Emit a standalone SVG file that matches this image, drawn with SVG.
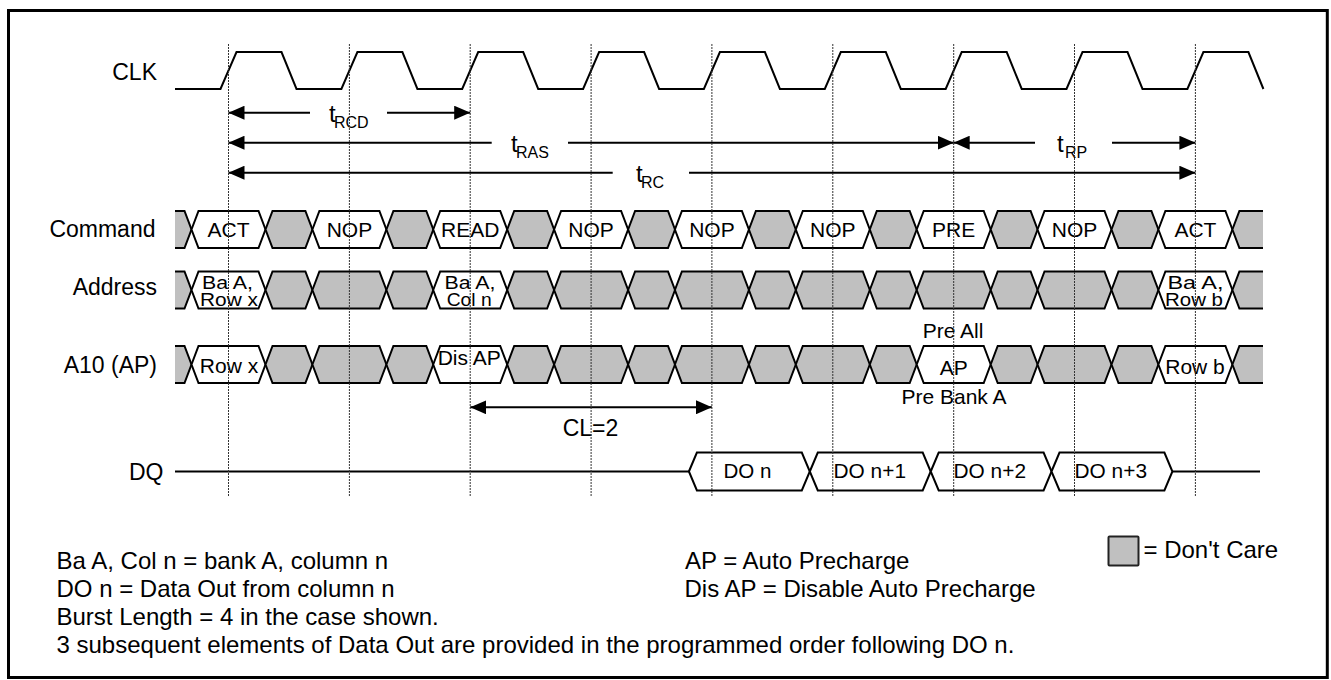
<svg xmlns="http://www.w3.org/2000/svg" width="1331" height="680" viewBox="0 0 1331 680">
<style>
text{font-family:"Liberation Sans",Arial,sans-serif;fill:#000}
.lbl{font-size:23px;text-anchor:end}
.cmd{font-size:21px;text-anchor:middle}
.adr{font-size:17.5px;text-anchor:middle}
.dq{font-size:20px}
.note{font-size:24px}
.w{fill:#fff;stroke:#000;stroke-width:2;stroke-linejoin:miter}
.g{fill:#c0c0c0;stroke:#000;stroke-width:2;stroke-linejoin:miter}
.ln{fill:none;stroke:#000;stroke-width:2}
.arr{stroke:#000;stroke-width:2;fill:none}
.grid{stroke:#333;stroke-width:1;stroke-dasharray:2 1}
</style>
<defs>
<marker id="ah" viewBox="0 0 16 14" refX="16" refY="7" markerWidth="16" markerHeight="14" markerUnits="userSpaceOnUse" orient="auto-start-reverse"><path d="M0,0 L16,7 L0,14 z" fill="#000"/></marker>
<polygon id="hw" points="0,18.5 7,0 67,0 74,18.5 67,37 7,37"/>
<polygon id="hg" points="0,18.5 7,0 39.9,0 46.9,18.5 39.9,37 7,37"/>
<polygon id="hd" points="0,19 8,0 112.9,0 120.9,19 112.9,38 8,38"/>
<g id="capL"><polygon points="0,0 9.5,0 16.5,18.5 9.5,37 0,37" fill="#c0c0c0"/><path d="M0,0 H9.5 L16.5,18.5 L9.5,37 H0" class="ln"/></g>
<g id="capR"><polygon points="0,18.5 7,0 30.6,0 30.6,37 7,37" fill="#c0c0c0"/><path d="M30.6,0 H7 L0,18.5 L7,37 H30.6" class="ln"/></g>
</defs>

<rect id="frame" x="8.5" y="10.5" width="1318.8" height="667" fill="#fff" stroke="#000" stroke-width="3"/>

<g id="clk">
<text class="lbl" x="157" y="79.5">CLK</text>
<path class="ln" d="M175,89 L220.5,89 L236.5,52 L281.5,52 L296.5,89 L341.4,89 L357.4,52 L402.4,52 L417.4,89 L462.2,89 L478.2,52 L523.2,52 L538.2,89 L583.1,89 L599.1,52 L644.1,52 L659.1,89 L703.9,89 L719.9,52 L764.9,52 L779.9,89 L824.8,89 L840.8,52 L885.8,52 L900.8,89 L945.7,89 L961.7,52 L1006.7,52 L1021.7,89 L1066.5,89 L1082.5,52 L1127.5,52 L1142.5,89 L1187.4,89 L1203.4,52 L1248.4,52 L1263.4,89"/>
</g>

<g id="command">
<text class="lbl" x="155.5" y="237">Command</text>
<use href="#capL" x="175" y="211"/>
<use href="#hw" class="w" x="191.5" y="211"/>
<use href="#hg" class="g" x="265.5" y="211"/>
<use href="#hw" class="w" x="312.4" y="211"/>
<use href="#hg" class="g" x="386.4" y="211"/>
<use href="#hw" class="w" x="433.2" y="211"/>
<use href="#hg" class="g" x="507.2" y="211"/>
<use href="#hw" class="w" x="554.1" y="211"/>
<use href="#hg" class="g" x="628.1" y="211"/>
<use href="#hw" class="w" x="674.9" y="211"/>
<use href="#hg" class="g" x="748.9" y="211"/>
<use href="#hw" class="w" x="795.8" y="211"/>
<use href="#hg" class="g" x="869.8" y="211"/>
<use href="#hw" class="w" x="916.7" y="211"/>
<use href="#hg" class="g" x="990.7" y="211"/>
<use href="#hw" class="w" x="1037.5" y="211"/>
<use href="#hg" class="g" x="1111.5" y="211"/>
<use href="#hw" class="w" x="1158.4" y="211"/>
<use href="#capR" x="1232.4" y="211"/>
<text class="cmd" x="228.5" y="237">ACT</text>
<text class="cmd" x="349.4" y="237">NOP</text>
<text class="cmd" x="470.2" y="237">READ</text>
<text class="cmd" x="591.1" y="237">NOP</text>
<text class="cmd" x="711.9" y="237">NOP</text>
<text class="cmd" x="832.8" y="237">NOP</text>
<text class="cmd" x="953.7" y="237">PRE</text>
<text class="cmd" x="1074.5" y="237">NOP</text>
<text class="cmd" x="1195.4" y="237">ACT</text>
</g>

<g id="address">
<text class="lbl" x="157" y="295">Address</text>
<use href="#capL" x="175" y="271.5"/>
<use href="#hw" class="w" x="191.5" y="271.5"/>
<use href="#hg" class="g" x="265.5" y="271.5"/>
<use href="#hw" class="g" x="312.4" y="271.5"/>
<use href="#hg" class="g" x="386.4" y="271.5"/>
<use href="#hw" class="w" x="433.2" y="271.5"/>
<use href="#hg" class="g" x="507.2" y="271.5"/>
<use href="#hw" class="g" x="554.1" y="271.5"/>
<use href="#hg" class="g" x="628.1" y="271.5"/>
<use href="#hw" class="g" x="674.9" y="271.5"/>
<use href="#hg" class="g" x="748.9" y="271.5"/>
<use href="#hw" class="g" x="795.8" y="271.5"/>
<use href="#hg" class="g" x="869.8" y="271.5"/>
<use href="#hw" class="g" x="916.7" y="271.5"/>
<use href="#hg" class="g" x="990.7" y="271.5"/>
<use href="#hw" class="g" x="1037.5" y="271.5"/>
<use href="#hg" class="g" x="1111.5" y="271.5"/>
<use href="#hw" class="w" x="1158.4" y="271.5"/>
<use href="#capR" x="1232.4" y="271.5"/>
<text class="adr" x="227.5" y="289" textLength="51" lengthAdjust="spacingAndGlyphs">Ba A,</text>
<text class="adr" x="229" y="305.5" textLength="58" lengthAdjust="spacingAndGlyphs">Row x</text>
<text class="adr" x="470" y="289" textLength="51" lengthAdjust="spacingAndGlyphs">Ba A,</text>
<text class="adr" x="469.2" y="305.5" textLength="45" lengthAdjust="spacingAndGlyphs">Col n</text>
<text class="adr" x="1195.5" y="289" textLength="56" lengthAdjust="spacingAndGlyphs">Ba A,</text>
<text class="adr" x="1194" y="305.5" textLength="58" lengthAdjust="spacingAndGlyphs">Row b</text>
</g>

<g id="a10">
<text class="lbl" x="157" y="373">A10 (AP)</text>
<use href="#capL" x="175" y="346"/>
<use href="#hw" class="w" x="191.5" y="346"/>
<use href="#hg" class="g" x="265.5" y="346"/>
<use href="#hw" class="g" x="312.4" y="346"/>
<use href="#hg" class="g" x="386.4" y="346"/>
<use href="#hw" class="w" x="433.2" y="346"/>
<use href="#hg" class="g" x="507.2" y="346"/>
<use href="#hw" class="g" x="554.1" y="346"/>
<use href="#hg" class="g" x="628.1" y="346"/>
<use href="#hw" class="g" x="674.9" y="346"/>
<use href="#hg" class="g" x="748.9" y="346"/>
<use href="#hw" class="g" x="795.8" y="346"/>
<use href="#hg" class="g" x="869.8" y="346"/>
<use href="#hw" class="w" x="916.7" y="346"/>
<use href="#hg" class="g" x="990.7" y="346"/>
<use href="#hw" class="g" x="1037.5" y="346"/>
<use href="#hg" class="g" x="1111.5" y="346"/>
<use href="#hw" class="w" x="1158.4" y="346"/>
<use href="#capR" x="1232.4" y="346"/>
<text class="cmd" x="229" y="373">Row x</text>
<text class="cmd" x="469.2" y="365">Dis AP</text>
<text class="cmd" x="953.7" y="375">AP</text>
<text class="cmd" x="1195" y="374">Row b</text>
<text class="cmd" x="953" y="337.5">Pre All</text>
<text class="cmd" x="954" y="404">Pre Bank A</text>
</g>

<g id="dq">
<text class="lbl" x="163.5" y="479.5">DQ</text>
<path class="ln" d="M175,471.5 H688.9 M1172.4,471.5 H1260"/>
<use href="#hd" class="w" x="688.9" y="452.5"/>
<use href="#hd" class="w" x="809.8" y="452.5"/>
<use href="#hd" class="w" x="930.7" y="452.5"/>
<use href="#hd" class="w" x="1051.5" y="452.5"/>
<text class="dq" x="723.5" y="478" textLength="48" lengthAdjust="spacingAndGlyphs">DO n</text>
<text class="dq" x="833.5" y="478" textLength="72.5" lengthAdjust="spacingAndGlyphs">DO n+1</text>
<text class="dq" x="953.5" y="478" textLength="72.5" lengthAdjust="spacingAndGlyphs">DO n+2</text>
<text class="dq" x="1074.5" y="478" textLength="72.5" lengthAdjust="spacingAndGlyphs">DO n+3</text>
</g>

<g id="connectors">
<line class="arr" x1="310" y1="112.7" x2="228.5" y2="112.7" marker-end="url(#ah)"/>
<line class="arr" x1="387" y1="112.7" x2="470.2" y2="112.7" marker-end="url(#ah)"/>
<line class="arr" x1="491.7" y1="142.7" x2="228.5" y2="142.7" marker-end="url(#ah)"/>
<line class="arr" x1="568" y1="142.7" x2="953.7" y2="142.7" marker-end="url(#ah)"/>
<line class="arr" x1="1035" y1="142.7" x2="953.7" y2="142.7" marker-end="url(#ah)"/>
<line class="arr" x1="1112" y1="142.7" x2="1195.4" y2="142.7" marker-end="url(#ah)"/>
<line class="arr" x1="612.7" y1="172.7" x2="228.5" y2="172.7" marker-end="url(#ah)"/>
<line class="arr" x1="689" y1="172.7" x2="1195.4" y2="172.7" marker-end="url(#ah)"/>
<line class="arr" x1="470.2" y1="407.3" x2="711.9" y2="407.3" marker-start="url(#ah)" marker-end="url(#ah)"/>
</g>

<g id="timing-labels">
<text font-size="24"><tspan x="329" y="121.7">t</tspan><tspan x="334" y="127.7" font-size="16">RCD</tspan></text>
<text font-size="24"><tspan x="511" y="151.7">t</tspan><tspan x="516" y="157.7" font-size="16">RAS</tspan></text>
<text font-size="24"><tspan x="1057" y="151.7">t</tspan><tspan x="1065" y="157.7" font-size="16">RP</tspan></text>
<text font-size="24"><tspan x="636" y="181.7">t</tspan><tspan x="641" y="187.7" font-size="16">RC</tspan></text>
<text font-size="23" text-anchor="middle" x="590.5" y="436">CL=2</text>
</g>

<g id="grid">
<line class="grid" x1="228.5" y1="44" x2="228.5" y2="497"/>
<line class="grid" x1="349.4" y1="44" x2="349.4" y2="497"/>
<line class="grid" x1="470.2" y1="44" x2="470.2" y2="497"/>
<line class="grid" x1="591.1" y1="44" x2="591.1" y2="497"/>
<line class="grid" x1="711.9" y1="44" x2="711.9" y2="497"/>
<line class="grid" x1="832.8" y1="44" x2="832.8" y2="497"/>
<line class="grid" x1="953.7" y1="44" x2="953.7" y2="497"/>
<line class="grid" x1="1074.5" y1="44" x2="1074.5" y2="497"/>
<line class="grid" x1="1195.4" y1="44" x2="1195.4" y2="497"/>
</g>

<g id="notes">
<text class="note" x="56.5" y="568.5">Ba A, Col n = bank A, column n</text>
<text class="note" x="56.5" y="596.5">DO n = Data Out from column n</text>
<text class="note" x="56.5" y="624.5">Burst Length = 4 in the case shown.</text>
<text class="note" x="56.5" y="652.5">3 subsequent elements of Data Out are provided in the programmed order following DO n.</text>
<text class="note" x="685" y="568.5">AP = Auto Precharge</text>
<text class="note" x="684.5" y="596.5">Dis AP = Disable Auto Precharge</text>
</g>

<g id="legend">
<rect x="1108.5" y="536.5" width="30" height="29" rx="1" fill="#c0c0c0" stroke="#222" stroke-width="2"/>
<text class="note" x="1143.5" y="558.3">= Don't Care</text>
</g>
</svg>
